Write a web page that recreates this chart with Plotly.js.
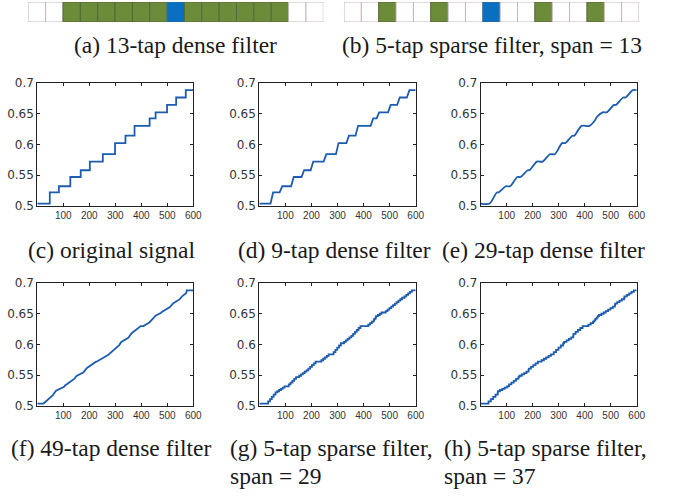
<!DOCTYPE html>
<html>
<head>
<meta charset="utf-8">
<script src="https://cdn.plot.ly/plotly-3.0.1.min.js"></script>
<style>html,body{margin:0;padding:0;background:#fff;}#chart{width:684px;height:496px;}</style>
</head>
<body>
<div id="chart"></div>
<script>
// ---- data ----
// filter strips: 0 = unused tap, 1 = filter tap, 2 = centre tap
var tapsDense = [0,0,1,1,1,1,1,1,2,1,1,1,1,1,1,0,0];
var tapsSparse = [0,0,1,0,0,1,0,0,2,0,0,1,0,0,1,0,0];

// (c) original signal (staircase)
var origX = [0, 48, 83, 127, 167, 202, 252, 299, 339, 374, 432, 455, 499, 534, 571, 600];
var origY = [0.504, 0.522, 0.532, 0.547, 0.558, 0.572, 0.584, 0.602, 0.614, 0.630, 0.642, 0.652, 0.664, 0.676, 0.688, 0.688];

// (d) 9-tap dense filter
var d9X = [0, 43, 53, 78, 88, 122, 132, 162, 172, 197, 207, 247, 257, 294, 304, 334, 344, 369, 379, 427, 437, 450, 460, 494, 504, 529, 539, 566, 576, 600];
var d9Y = [0.504, 0.504, 0.522, 0.522, 0.532, 0.532, 0.547, 0.547, 0.558, 0.558, 0.572, 0.572, 0.584, 0.584, 0.602, 0.602, 0.614, 0.614, 0.630, 0.630, 0.642, 0.642, 0.652, 0.652, 0.664, 0.664, 0.676, 0.676, 0.688, 0.688];

// (e) 29-tap dense filter
var d29X = [0, 34, 62, 69, 97, 113, 141, 153, 181, 188, 216, 238, 266, 285, 313, 325, 353, 360, 388, 418, 441, 446, 469, 485, 513, 520, 548, 557, 585, 600];
var d29Y = [0.504, 0.504, 0.522, 0.522, 0.532, 0.532, 0.547, 0.547, 0.558, 0.558, 0.572, 0.572, 0.584, 0.584, 0.602, 0.602, 0.614, 0.614, 0.630, 0.630, 0.640, 0.644, 0.652, 0.652, 0.664, 0.664, 0.676, 0.676, 0.688, 0.688];

// (f) 49-tap dense filter
var d49X = [0, 24, 59, 72, 103, 107, 143, 151, 178, 191, 226, 228, 275, 276, 315, 323, 350, 363, 398, 408, 431, 456, 475, 479, 510, 523, 547, 558, 573, 575, 600];
var d49Y = [0.504, 0.504, 0.5171, 0.5247, 0.5312, 0.5333, 0.5445, 0.5488, 0.5550, 0.5618, 0.572, 0.572, 0.5838, 0.5844, 0.599, 0.604, 0.6108, 0.6183, 0.630, 0.630, 0.6358, 0.6472, 0.6512, 0.653, 0.6608, 0.6673, 0.6733, 0.6788, 0.6838, 0.688, 0.688];

// (g) 5-tap sparse filter, span 29
var s29X = [0, 34, 41, 48, 55, 62, 69, 76, 83, 90, 97, 113, 120, 127, 134, 141, 153, 160, 167, 174, 181, 188, 195, 202, 209, 216, 238, 245, 252, 259, 266, 285, 292, 299, 306, 313, 325, 332, 339, 346, 353, 360, 367, 374, 381, 388, 418, 425, 432, 439, 441, 446, 448, 455, 462, 469, 485, 492, 499, 506, 513, 520, 527, 534, 541, 548, 557, 564, 571, 578, 585, 600];
var s29Y = [0.504, 0.5076, 0.5112, 0.5148, 0.5184, 0.522, 0.524, 0.526, 0.528, 0.530, 0.532, 0.535, 0.538, 0.541, 0.544, 0.547, 0.5492, 0.5514, 0.5536, 0.5558, 0.558, 0.5608, 0.5636, 0.5664, 0.5692, 0.572, 0.5744, 0.5768, 0.5792, 0.5816, 0.584, 0.5876, 0.5912, 0.5948, 0.5984, 0.602, 0.6044, 0.6068, 0.6092, 0.6116, 0.614, 0.6172, 0.6204, 0.6236, 0.6268, 0.630, 0.6324, 0.6348, 0.6372, 0.6396, 0.6416, 0.644, 0.646, 0.648, 0.650, 0.652, 0.6544, 0.6568, 0.6592, 0.6616, 0.664, 0.6664, 0.6688, 0.6712, 0.6736, 0.676, 0.6784, 0.6808, 0.6832, 0.6856, 0.688, 0.688];

// (h) 5-tap sparse filter, span 37
var s37X = [0, 30, 39, 48, 57, 65, 66, 74, 83, 92, 101, 109, 118, 127, 136, 145, 149, 158, 167, 176, 184, 185, 193, 202, 211, 220, 234, 243, 252, 261, 270, 281, 290, 299, 308, 317, 321, 330, 339, 348, 356, 357, 365, 374, 383, 392, 414, 423, 432, 437, 441, 446, 450, 455, 464, 473, 481, 490, 499, 508, 516, 517, 525, 534, 543, 552, 553, 562, 571, 580, 589, 600];
var s37Y = [0.504, 0.5076, 0.5112, 0.5148, 0.5184, 0.5204, 0.524, 0.526, 0.528, 0.530, 0.532, 0.535, 0.538, 0.541, 0.544, 0.547, 0.5492, 0.5514, 0.5536, 0.5558, 0.5586, 0.5608, 0.5636, 0.5664, 0.5692, 0.572, 0.5744, 0.5768, 0.5792, 0.5816, 0.584, 0.5876, 0.5912, 0.5948, 0.5984, 0.602, 0.6044, 0.6068, 0.6092, 0.6116, 0.6148, 0.6172, 0.6204, 0.6236, 0.6268, 0.630, 0.6324, 0.6348, 0.6372, 0.6392, 0.6416, 0.6436, 0.646, 0.648, 0.650, 0.652, 0.6544, 0.6568, 0.6592, 0.6616, 0.664, 0.6664, 0.6688, 0.6712, 0.6736, 0.676, 0.6784, 0.6808, 0.6832, 0.6856, 0.688, 0.688];

var xTicks = [100, 200, 300, 400, 500, 600];
var yTicks = [0.5, 0.55, 0.6, 0.65, 0.7];
var yTickText = ['0.5', '0.55', '0.6', '0.65', '0.7'];

var captions = [
  {text: '(a) 13-tap dense filter', x: 175, y: 45, anchor: 'center'},
  {text: '(b) 5-tap sparse filter, span = 13', x: 492, y: 45, anchor: 'center'},
  {text: '(c) original signal', x: 26, y: 250, anchor: 'left'},
  {text: '(d) 9-tap dense filter', x: 236, y: 250, anchor: 'left'},
  {text: '(e) 29-tap dense filter', x: 440, y: 250, anchor: 'left'},
  {text: '(f) 49-tap dense filter', x: 9, y: 448, anchor: 'left'},
  {text: '(g) 5-tap sparse filter,', x: 228, y: 448, anchor: 'left'},
  {text: 'span = 29', x: 228, y: 476, anchor: 'left'},
  {text: '(h) 5-tap sparse filter,', x: 442, y: 448, anchor: 'left'},
  {text: 'span = 37', x: 442, y: 476, anchor: 'left'}
];

// ---- layout / styling ----
var W = 684, H = 496;
function px2fx(a, b) { return [a / W, b / W]; }
function px2fy(top, bottom) { return [1 - bottom / H, 1 - top / H]; }

var cols = [[37.3, 193.3], [259.3, 415.7], [480.7, 636.7]];
var rows = [[82.7, 206], [283, 406]];
var series = [[origX, origY, 'hv'], [d9X, d9Y, 'linear'], [d29X, d29Y, 'spline'],
              [d49X, d49Y, 'linear'], [s29X, s29Y, 'hv'], [s37X, s37Y, 'hv']];

var lineColor = '#1d5caf';
var traces = [];
var layout = {
  width: W, height: H, margin: {l: 0, r: 0, t: 0, b: 0},
  paper_bgcolor: '#fff', plot_bgcolor: '#fff', showlegend: false,
  bargap: 0, annotations: []
};

series.forEach(function (s, i) {
  var n = i + 1;
  var r = Math.floor(i / 3), c = i % 3;
  traces.push({
    type: 'scatter', mode: 'lines', x: s[0], y: s[1],
    xaxis: 'x' + n, yaxis: 'y' + n,
    line: {color: lineColor, width: 1.8, shape: s[2], smoothing: 0.8},
    hoverinfo: 'skip'
  });
  layout['xaxis' + n] = {
    domain: px2fx(cols[c][0], cols[c][1]), anchor: 'y' + n,
    range: [0, 600], tickvals: xTicks, ticks: 'inside', ticklen: 3, tickcolor: '#222',
    showline: true, linecolor: '#222', linewidth: 1, mirror: 'ticks',
    showgrid: false, zeroline: false,
    tickfont: {family: '"Liberation Sans", Arial, sans-serif', size: 10, color: '#333'}
  };
  layout['yaxis' + n] = {
    domain: px2fy(rows[r][0], rows[r][1]), anchor: 'x' + n,
    range: [0.5, 0.7], tickvals: yTicks, ticktext: yTickText, ticks: 'inside', ticklen: 3, tickcolor: '#222',
    showline: true, linecolor: '#222', linewidth: 1, mirror: 'ticks',
    showgrid: false, zeroline: false,
    tickfont: {family: '"DejaVu Sans", sans-serif', size: 12, color: '#333'}
  };
});

// filter strips as bar cells
var cellFill = ['#ffffff', '#6c8c3a', '#0a6fc0'];
var cellEdge = ['#c7b6b6', '#56683c', '#3b6d93'];
var strips = [[tapsDense, [28.3, 323.3]], [tapsSparse, [344, 639]]];
strips.forEach(function (st, k) {
  var n = 7 + k;
  var idx = st[0].map(function (_, j) { return j; });
  traces.push({
    type: 'bar', x: idx, y: st[0].map(function () { return 1; }),
    xaxis: 'x' + n, yaxis: 'y' + n, width: 1,
    marker: {color: st[0].map(function (v) { return cellFill[v]; }),
             line: {color: st[0].map(function (v) { return cellEdge[v]; }), width: 1}},
    hoverinfo: 'skip'
  });
  layout['xaxis' + n] = {domain: px2fx(st[1][0], st[1][1]), anchor: 'y' + n, range: [-0.5, 16.5],
    showticklabels: false, showgrid: false, zeroline: false, ticks: '', showline: false, fixedrange: true};
  layout['yaxis' + n] = {domain: px2fy(2, 22), anchor: 'x' + n, range: [0, 1],
    showticklabels: false, showgrid: false, zeroline: false, ticks: '', showline: false, fixedrange: true};
});

captions.forEach(function (cp) {
  layout.annotations.push({
    text: cp.text, xref: 'paper', yref: 'paper', x: cp.x / W, y: 1 - cp.y / H,
    xanchor: cp.anchor, yanchor: 'middle', showarrow: false, align: 'left',
    font: {family: '"Liberation Serif", "Times New Roman", Times, serif', size: 23.5, color: '#1a1a1a'}
  });
});

Plotly.newPlot('chart', traces, layout, {staticPlot: true, displayModeBar: false});
</script>
</body>
</html>
